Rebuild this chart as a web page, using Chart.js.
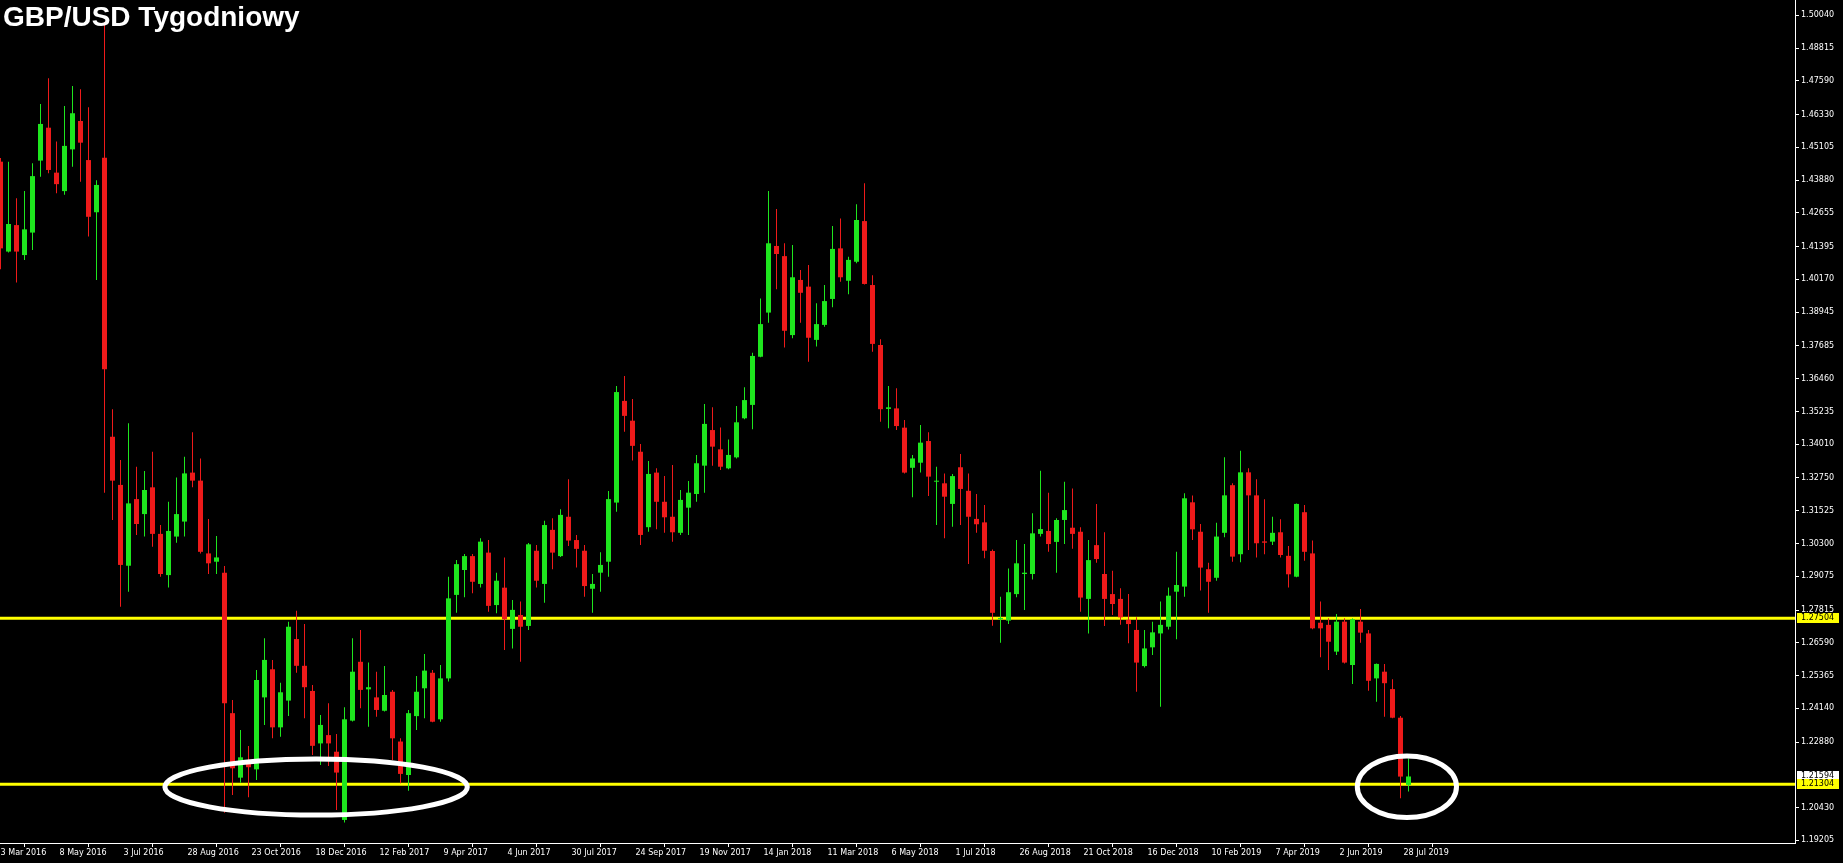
<!DOCTYPE html>
<html>
<head>
<meta charset="utf-8">
<title>GBP/USD Tygodniowy</title>
<script src="https://cdn.jsdelivr.net/npm/chart.js@4.4.1/dist/chart.umd.min.js"></script>
<style>
  html, body { margin: 0; padding: 0; background: #000; overflow: hidden; }
  canvas { display: block; }
</style>
</head>
<body>
<canvas id="chart" width="1843" height="863"></canvas>
<script>
// weekly candles, first one is the week of 20 Mar 2016
const dateTicks = ['13 Mar 2016', '8 May 2016', '3 Jul 2016', '28 Aug 2016', '23 Oct 2016', '18 Dec 2016',
	'12 Feb 2017', '9 Apr 2017', '4 Jun 2017', '30 Jul 2017', '24 Sep 2017', '19 Nov 2017', '14 Jan 2018',
	'11 Mar 2018', '6 May 2018', '1 Jul 2018', '26 Aug 2018', '21 Oct 2018', '16 Dec 2018', '10 Feb 2019',
	'7 Apr 2019', '2 Jun 2019', '28 Jul 2019'];
const priceTicks = [1.50040, 1.48815, 1.47590, 1.46330, 1.45105, 1.43880, 1.42655, 1.41395, 1.40170,
	1.38945, 1.37685, 1.36460, 1.35235, 1.34010, 1.32750, 1.31525, 1.30300, 1.29075, 1.27815, 1.26590,
	1.25365, 1.24140, 1.22880, 1.20430, 1.19205];
const levels = [1.27504, 1.21304];

const opens = [
	1.4457, 1.4121, 1.4220, 1.4108, 1.4192, 1.4461, 1.4584, 1.4416, 1.4347, 1.4503,
	1.4609, 1.4463, 1.4268, 1.4472, 1.3429, 1.3249, 1.2947, 1.3196, 1.3140, 1.3240,
	1.3066, 1.2912, 1.3056, 1.3112, 1.3295, 1.3265, 1.2993, 1.2962, 1.2921, 1.2396,
	1.2155, 1.2215, 1.2186, 1.2455, 1.2560, 1.2343, 1.2443, 1.2673, 1.2573, 1.2479,
	1.2283, 1.2314, 1.2252, 1.1997, 1.2368, 1.2588, 1.2485, 1.2455, 1.2405, 1.2476,
	1.2290, 1.2165, 1.2385, 1.2489, 1.2547, 1.2373, 1.2526, 1.2838, 1.2931, 1.2983,
	1.2879, 1.2996, 1.2800, 1.2865, 1.2711, 1.2763, 1.2722, 1.3003, 1.2879, 1.3081,
	1.2983, 1.3130, 1.3043, 1.3003, 1.2861, 1.2921, 1.2962, 1.3183, 1.3563, 1.3489,
	1.3373, 1.3091, 1.3295, 1.3186, 1.3130, 1.3070, 1.3164, 1.3215, 1.3321, 1.3454,
	1.3382, 1.3311, 1.3352, 1.3498, 1.3548, 1.3728, 1.3893, 1.4142, 1.4104, 1.3809,
	1.4015, 1.3990, 1.3791, 1.3847, 1.3944, 1.4133, 1.4012, 1.4083, 1.4235, 1.3996,
	1.3772, 1.3533, 1.3535, 1.3463, 1.3313, 1.3332, 1.3413, 1.3261, 1.3255, 1.3178,
	1.3315, 1.3227, 1.3122, 1.3109, 1.3002, 1.2747, 1.2742, 1.2841, 1.2916, 1.2916,
	1.3066, 1.3077, 1.3036, 1.3118, 1.3089, 1.3074, 1.2823, 1.3024, 1.2916, 1.2841,
	1.2823, 1.2744, 1.2707, 1.2572, 1.2642, 1.2694, 1.2719, 1.2850, 1.2869, 1.3184,
	1.3074, 1.2934, 1.2902, 1.3070, 1.3248, 1.2990, 1.3296, 1.3210, 1.3038, 1.3037,
	1.3072, 1.2984, 1.2906, 1.3147, 1.2993, 1.2734, 1.2726, 1.2626, 1.2738, 1.2576,
	1.2738, 1.2694, 1.2526, 1.2551, 1.2486, 1.2379, 1.2128
];
const highs = [
	1.4471, 1.4457, 1.4320, 1.4347, 1.4451, 1.4673, 1.4769, 1.4532, 1.4665, 1.4740,
	1.4728, 1.4660, 1.4388, 1.4979, 1.3532, 1.3342, 1.3479, 1.3317, 1.3301, 1.3373,
	1.3099, 1.3186, 1.3277, 1.3354, 1.3446, 1.3348, 1.3122, 1.3058, 1.2946, 1.2445,
	1.2333, 1.2273, 1.2557, 1.2676, 1.2595, 1.2510, 1.2738, 1.2779, 1.2729, 1.2501,
	1.2389, 1.2433, 1.2318, 1.2418, 1.2676, 1.2707, 1.2585, 1.2551, 1.2572, 1.2483,
	1.2302, 1.2408, 1.2535, 1.2617, 1.2557, 1.2576, 1.2906, 1.2968, 1.2991, 1.2991,
	1.3050, 1.3043, 1.2921, 1.2978, 1.2819, 1.2813, 1.3032, 1.3024, 1.3115, 1.3124,
	1.3158, 1.3270, 1.3062, 1.3024, 1.2916, 1.2997, 1.3226, 1.3619, 1.3656, 1.3570,
	1.3402, 1.3338, 1.3311, 1.3282, 1.3323, 1.3230, 1.3264, 1.3361, 1.3551, 1.3539,
	1.3464, 1.3419, 1.3544, 1.3614, 1.3743, 1.3946, 1.4347, 1.4280, 1.4152, 1.4146,
	1.4052, 1.4071, 1.3928, 1.3996, 1.4217, 1.4245, 1.4102, 1.4298, 1.4376, 1.4033,
	1.3793, 1.3619, 1.3610, 1.3492, 1.3361, 1.3473, 1.3446, 1.3317, 1.3292, 1.3290,
	1.3365, 1.3292, 1.3215, 1.3174, 1.3008, 1.2831, 1.2937, 1.3043, 1.3028, 1.3143,
	1.3302, 1.3220, 1.3124, 1.3261, 1.3236, 1.3091, 1.3043, 1.3178, 1.3072, 1.2928,
	1.2863, 1.2841, 1.2754, 1.2707, 1.2738, 1.2813, 1.2866, 1.2999, 1.3218, 1.3209,
	1.3103, 1.2958, 1.3108, 1.3352, 1.3255, 1.3377, 1.3311, 1.3270, 1.3195, 1.3130,
	1.3121, 1.3021, 1.3180, 1.3174, 1.3041, 1.2813, 1.2751, 1.2767, 1.2751, 1.2751,
	1.2785, 1.2707, 1.2582, 1.2580, 1.2523, 1.2385, 1.2227
];
const lows = [
	1.4055, 1.4118, 1.4005, 1.4090, 1.4127, 1.4401, 1.4414, 1.4339, 1.4333, 1.4438,
	1.4382, 1.4177, 1.4015, 1.3220, 1.3118, 1.2794, 1.2850, 1.3062, 1.3056, 1.3018,
	1.2906, 1.2866, 1.3033, 1.3056, 1.3240, 1.2993, 1.2916, 1.2916, 1.2024, 1.2090,
	1.2136, 1.2082, 1.2146, 1.2352, 1.2302, 1.2308, 1.2385, 1.2547, 1.2377, 1.2240,
	1.2202, 1.2199, 1.2034, 1.1987, 1.2365, 1.2414, 1.2345, 1.2383, 1.2402, 1.2221,
	1.2134, 1.2106, 1.2333, 1.2377, 1.2362, 1.2364, 1.2514, 1.2771, 1.2829, 1.2844,
	1.2866, 1.2775, 1.2769, 1.2632, 1.2638, 1.2588, 1.2707, 1.2866, 1.2809, 1.2934,
	1.2980, 1.3021, 1.2940, 1.2831, 1.2771, 1.2850, 1.2906, 1.3149, 1.3448, 1.3340,
	1.3024, 1.3074, 1.3083, 1.3070, 1.3037, 1.3062, 1.3062, 1.3186, 1.3220, 1.3321,
	1.3305, 1.3308, 1.3348, 1.3494, 1.3457, 1.3726, 1.3855, 1.3980, 1.3763, 1.3797,
	1.3855, 1.3709, 1.3766, 1.3840, 1.3913, 1.4008, 1.3962, 1.4077, 1.3998, 1.3747,
	1.3485, 1.3461, 1.3454, 1.3292, 1.3203, 1.3295, 1.3208, 1.3099, 1.3050, 1.3093,
	1.3099, 1.2953, 1.3070, 1.2975, 1.2723, 1.2659, 1.2729, 1.2829, 1.2782, 1.2896,
	1.3056, 1.2999, 1.2921, 1.3028, 1.3010, 1.2775, 1.2694, 1.2958, 1.2722, 1.2763,
	1.2726, 1.2657, 1.2476, 1.2567, 1.2613, 1.2420, 1.2709, 1.2672, 1.2831, 1.3043,
	1.2854, 1.2771, 1.2891, 1.3053, 1.2962, 1.2960, 1.3006, 1.2978, 1.2990, 1.3024,
	1.2978, 1.2866, 1.2904, 1.2966, 1.2710, 1.2605, 1.2557, 1.2613, 1.2582, 1.2505,
	1.2659, 1.2480, 1.2439, 1.2383, 1.2377, 1.2078, 1.2103
];
const closes = [
	1.4133, 1.4224, 1.4121, 1.4204, 1.4403, 1.4598, 1.4426, 1.4373, 1.4516, 1.4638,
	1.4528, 1.4251, 1.4370, 1.3681, 1.3265, 1.2950, 1.3180, 1.3103, 1.3230, 1.3066,
	1.2916, 1.3077, 1.3140, 1.3292, 1.3265, 1.2999, 1.2956, 1.2978, 1.2433, 1.2190,
	1.2231, 1.2194, 1.2520, 1.2595, 1.2343, 1.2474, 1.2719, 1.2573, 1.2493, 1.2274,
	1.2352, 1.2283, 1.2174, 1.2373, 1.2551, 1.2483, 1.2493, 1.2408, 1.2464, 1.2302,
	1.2169, 1.2396, 1.2476, 1.2555, 1.2364, 1.2526, 1.2825, 1.2953, 1.2983, 1.2887,
	1.3037, 1.2797, 1.2891, 1.2747, 1.2782, 1.2719, 1.3027, 1.2891, 1.3099, 1.2996,
	1.3137, 1.3041, 1.3010, 1.2871, 1.2879, 1.2950, 1.3196, 1.3596, 1.3507, 1.3395,
	1.3062, 1.3290, 1.3186, 1.3128, 1.3072, 1.3193, 1.3220, 1.3330, 1.3477, 1.3392,
	1.3317, 1.3361, 1.3483, 1.3566, 1.3731, 1.3850, 1.4152, 1.4112, 1.3825, 1.4025,
	1.3967, 1.3799, 1.3850, 1.3936, 1.4131, 1.4025, 1.4090, 1.4239, 1.4000, 1.3776,
	1.3532, 1.3539, 1.3469, 1.3295, 1.3348, 1.3407, 1.3280, 1.3264, 1.3205, 1.3282,
	1.3234, 1.3130, 1.3102, 1.3003, 1.2771, 1.2752, 1.2848, 1.2956, 1.2921, 1.3068,
	1.3084, 1.3028, 1.3118, 1.3155, 1.3066, 1.2828, 1.2968, 1.2972, 1.2823, 1.2804,
	1.2754, 1.2729, 1.2585, 1.2638, 1.2698, 1.2726, 1.2835, 1.2875, 1.3199, 1.3083,
	1.2940, 1.2887, 1.3056, 1.3210, 1.2981, 1.3296, 1.3210, 1.3031, 1.3033, 1.3070,
	1.2987, 1.2915, 1.3178, 1.2999, 1.2713, 1.2713, 1.2663, 1.2738, 1.2585, 1.2747,
	1.2697, 1.2517, 1.2580, 1.2508, 1.2379, 1.2159, 1.21594
];

// hand drawn circles: centre (week, price) and half sizes (weeks, price)
const ellipses = [
	{ week: 39.45, price: 1.2120, weeks: 18.9, range: 0.0105 },
	{ week: 175.8, price: 1.2121, weeks: 6.2, range: 0.0115 }
];

const GREEN = '#1ee61e';
const RED = '#ee1a1a';
const YELLOW = '#ffff00';
const X_MIN = -0.0625, X_MAX = 224.3125;
const Y_MIN = 1.19108, Y_MAX = 1.50612;

const candleColors = closes.map((c, i) => c >= opens[i] ? GREEN : RED);

const overlay = {
	id: 'overlay',
	afterDatasetsDraw(chart) {
		const { ctx, scales: { x, y } } = chart;
		ctx.save();
		ctx.strokeStyle = '#fff';
		ctx.lineWidth = 5;
		ellipses.forEach(e => {
			const cx = x.getPixelForValue(e.week);
			const cy = y.getPixelForValue(e.price);
			const rx = x.getPixelForValue(e.week + e.weeks) - cx;
			const ry = cy - y.getPixelForValue(e.price + e.range);
			ctx.beginPath();
			ctx.ellipse(cx, cy, rx, ry, 0, 0, Math.PI * 2);
			ctx.stroke();
		});
		ctx.restore();
	},
	afterDraw(chart) {
		const { ctx, scales: { y } } = chart;
		ctx.save();
		ctx.font = '8px "DejaVu Sans"';
		ctx.textBaseline = 'middle';
		const tag = (v, bg) => {
			const py = Math.round(y.getPixelForValue(v));
			ctx.fillStyle = bg;
			ctx.fillRect(y.left + 2, py - 5, 42, 10);
			ctx.fillStyle = '#000';
			ctx.fillText(v.toFixed(5), y.left + 6, py);
		};
		tag(closes[closes.length - 1], '#fff');
		levels.forEach(v => tag(v, YELLOW));

		ctx.font = 'bold 28px "Liberation Sans", Arial, sans-serif';
		ctx.textBaseline = 'alphabetic';
		ctx.fillStyle = '#fff';
		ctx.fillText('GBP/USD Tygodniowy', 3, 26);
		ctx.restore();
	}
};

Chart.defaults.font.family = '"DejaVu Sans"';
Chart.defaults.font.size = 8;
Chart.defaults.color = '#fff';

new Chart(document.getElementById('chart'), {
	type: 'bar',
	data: {
		datasets: [
			...levels.map(v => ({
				type: 'line',
				data: [{ x: X_MIN, y: v }, { x: X_MAX, y: v }],
				borderColor: YELLOW,
				borderWidth: 3,
				pointRadius: 0,
				order: 3
			})),
			{
				data: highs.map((h, i) => ({ x: i, y: [lows[i], h] })),
				backgroundColor: candleColors,
				barThickness: 1,
				grouped: false,
				borderWidth: 0,
				inflateAmount: 0,
				order: 2
			},
			{
				data: opens.map((o, i) => ({ x: i, y: [o, closes[i]] })),
				backgroundColor: candleColors,
				barThickness: 5,
				minBarLength: 1,
				grouped: false,
				borderWidth: 0,
				inflateAmount: 0,
				order: 1
			}
		]
	},
	options: {
		responsive: false,
		devicePixelRatio: 1,
		animation: false,
		layout: { padding: 0 },
		plugins: {
			legend: { display: false },
			tooltip: { enabled: false }
		},
		scales: {
			x: {
				type: 'linear',
				min: X_MIN,
				max: X_MAX,
				bounds: 'data',
				offset: false,
				border: { display: true, color: '#fff', width: 1 },
				grid: { drawOnChartArea: false, drawTicks: true, tickLength: 4, color: '#fff' },
				ticks: {
					autoSkip: false,
					maxRotation: 0,
					align: 'start',
					labelOffset: 3,
					padding: 1,
					callback: (v, i) => dateTicks[i]
				},
				afterBuildTicks: s => {
					s.ticks = dateTicks.map((d, k) => ({ value: k * 8 - 1 }));
				},
				afterFit: s => {
					s.height = 20;
					s.paddingLeft = 0;
					s.paddingRight = 0;
				}
			},
			y: {
				position: 'right',
				min: Y_MIN,
				max: Y_MAX,
				bounds: 'data',
				border: { display: true, color: '#fff', width: 1 },
				grid: { drawOnChartArea: false, drawTicks: true, tickLength: 4, color: '#fff' },
				ticks: {
					autoSkip: false,
					padding: 2,
					callback: v => v.toFixed(5)
				},
				afterBuildTicks: s => {
					s.ticks = priceTicks.map(v => ({ value: v }));
				},
				afterFit: s => {
					s.width = 48;
					s.paddingTop = 0;
					s.paddingBottom = 0;
				}
			}
		}
	},
	plugins: [overlay]
});
</script>
</body>
</html>
